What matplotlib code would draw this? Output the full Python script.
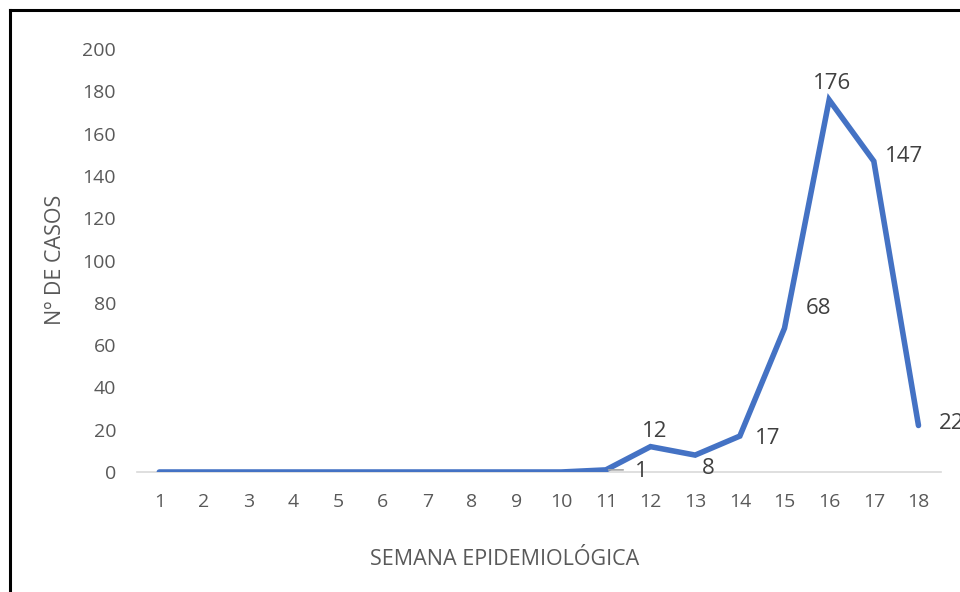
import matplotlib.pyplot as plt
from matplotlib.lines import Line2D

plt.rcParams['font.family'] = ['Open Sans', 'DejaVu Sans']

semanas = list(range(1, 19))
casos = [0, 0, 0, 0, 0, 0, 0, 0, 0, 0, 1, 12, 8, 17, 68, 176, 147, 22]

# label offsets in pixels (dx, dy) for the labelled points
etiquetas = {11: (35, -2), 12: (4, 15), 13: (13, -13), 14: (28, -2),
             15: (34, 20), 16: (3, 16), 17: (30, 5), 18: (33, 2)}

fig = plt.figure(figsize=(9.6, 5.92), dpi=100)
ax = fig.add_axes([0.1427, 0.2027, 0.8373, 0.7143])

ax.plot(semanas, casos, color='#4472C4', lw=4, solid_capstyle='round',
        solid_joinstyle='miter', zorder=3)

for s, (dx, dy) in etiquetas.items():
    v = casos[s - 1]
    ax.annotate(str(v), (s, v), xytext=(dx * 0.72, dy * 0.72),
                textcoords='offset points', ha='center', va='center',
                fontsize=16, color='#404040')
# leader line for the "1" label
ax.annotate('', (11, 1), xytext=(11.45, 1), arrowprops=dict(arrowstyle='-', color='#A6A6A6', lw=1.2))

ax.set_xlim(0.5, 18.5)
ax.set_ylim(0, 200)
ax.set_xticks(semanas)
ax.set_yticks(range(0, 201, 20))
for sp in ['top', 'right', 'left']:
    ax.spines[sp].set_visible(False)
ax.spines['bottom'].set_color('#D9D9D9')
ax.spines['bottom'].set_linewidth(1.2)
ax.tick_params(axis='both', length=0, labelsize=14, labelcolor='#595959')
ax.tick_params(axis='x', pad=15)
ax.tick_params(axis='y', pad=15)

ax.set_xlabel('SEMANA EPIDEMIOLÓGICA', fontsize=15.5, color='#595959', va='center')
ax.set_ylabel('Nº DE CASOS', fontsize=15.5, color='#595959', va='center')
ax.xaxis.set_label_coords(0.4577, -0.208)
ax.yaxis.set_label_coords(-0.102, 0.501)

fig.add_artist(Line2D([9.5 / 960, 9.5 / 960], [0, 1 - 10 / 592], color='black', lw=2.2, transform=fig.transFigure))
fig.add_artist(Line2D([9.5 / 960, 1], [1 - 10 / 592, 1 - 10 / 592], color='black', lw=2.2, transform=fig.transFigure))

fig.savefig('out.png', dpi=100)
